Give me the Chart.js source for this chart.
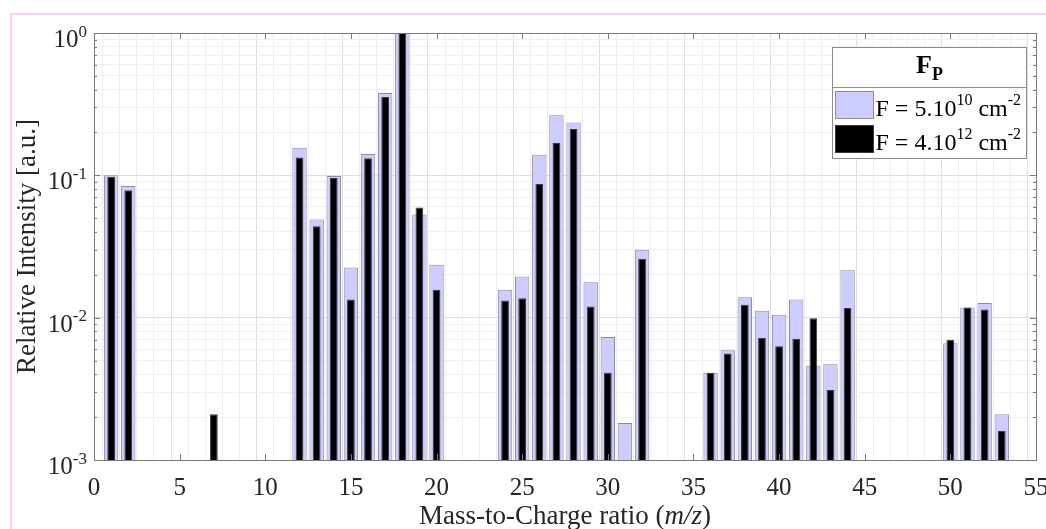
<!DOCTYPE html>
<html>
<head>
<meta charset="utf-8">
<script src="https://cdn.jsdelivr.net/npm/chart.js@4"></script>
<style>
  html, body { margin: 0; padding: 0; background: #fff; }
  #wrap { position: relative; width: 1046px; height: 529px; overflow: hidden; }
  #frame { position: absolute; left: 10px; top: 13px; width: 1100px; height: 600px; border: 2px solid #fcccfc; }
  canvas { position: absolute; left: 0; top: 0; }
</style>
</head>
<body>
<div id="wrap">
  <div id="frame"></div>
  <canvas id="spectrum" width="1046" height="529"></canvas>
</div>
<script>
// m/z positions and relative intensities
const massToCharge = [1, 2, 7, 12, 13, 14, 15, 16, 17, 18, 19, 20, 24, 25, 26, 27, 28, 29, 30, 31, 32,
                      36, 37, 38, 39, 40, 41, 42, 43, 44, 50, 51, 52, 53];
const lowFluence = [0.100, 0.084, null, 0.156, 0.049, 0.099, 0.0225, 0.141, 0.379, 1.0, 0.053, 0.0235,
                    0.0157, 0.0195, 0.1395, 0.264, 0.235, 0.0177, 0.0073, 0.00182, 0.030,
                    0.0041, 0.0059, 0.0139, 0.0112, 0.0105, 0.0134, 0.0046, 0.0047, 0.0215,
                    0.0066, 0.0118, 0.0127, 0.0021];
const highFluence = [0.0977, 0.0785, 0.0021, 0.1336, 0.0438, 0.0957, 0.0134, 0.132, 0.355, 1.0, 0.0595, 0.0157,
                     0.0132, 0.0137, 0.0869, 0.169, 0.2115, 0.0120, 0.0041, null, 0.0259,
                     0.0041, 0.0056, 0.0123, 0.0072, 0.0063, 0.0071, 0.0099, 0.0031, 0.0117,
                     0.0070, 0.0118, 0.0114, 0.0016];
const seriesLabels = ["F = 5.10^10 cm^-2", "F = 4.10^12 cm^-2"];
const legendTitle = ["F", "P"];
const xTickLabels = [0, 5, 10, 15, 20, 25, 30, 35, 40, 45, 50, 55];
const yTickLabels = [0.001, 0.01, 0.1, 1];
const yTitle = "Relative Intensity [a.u.]";
const xTitle = ["Mass-to-Charge ratio (", "m/z", ")"];

const serif = "'Liberation Serif', 'Times New Roman', serif";
const textColor = "#262626";
const axisColor = "#7a7a7a";
const majorGrid = "#dedede";
const minorGrid = "#efefef";

function toPoints(values) {
    return massToCharge.map((m, i) => ({ x: m, y: values[i] })).filter(p => p.y !== null);
}

function isDecade(v) {
    const l = Math.log10(v);
    return Math.abs(l - Math.round(l)) < 1e-6;
}

// split "5.10^10 cm^-2" into plain / superscript pieces
function splitSup(str) {
    const parts = [];
    let last = 0;
    str.replace(/\^(-?\d+)/g, (m, exp, idx) => {
        if (idx > last) parts.push({ text: str.slice(last, idx), sup: false });
        parts.push({ text: exp, sup: true });
        last = idx + m.length;
    });
    if (last < str.length) parts.push({ text: str.slice(last), sup: false });
    return parts;
}

function drawRich(ctx, str, x, y, size, align) {
    const parts = splitSup(str);
    const supSize = Math.round(size * 0.68);
    let width = 0;
    parts.forEach(p => {
        ctx.font = (p.sup ? supSize : size) + "px " + serif;
        p.w = ctx.measureText(p.text).width;
        width += p.w;
    });
    let cx = align === "right" ? x - width : align === "center" ? x - width / 2 : x;
    ctx.textAlign = "left";
    ctx.textBaseline = "alphabetic";
    parts.forEach(p => {
        ctx.font = (p.sup ? supSize : size) + "px " + serif;
        ctx.fillText(p.text, cx, p.sup ? y - size * 0.42 : y);
        cx += p.w;
    });
}

const decorations = {
    id: "decorations",
    afterDraw(chart) {
        const ctx = chart.ctx;
        const { left, right, top, bottom } = chart.chartArea;
        const xs = chart.scales.x;
        const ys = chart.scales.y;
        ctx.save();

        // inward tick marks and axis box
        ctx.strokeStyle = axisColor;
        ctx.lineWidth = 1;
        ctx.beginPath();
        xTickLabels.forEach(v => {
            const px = Math.round(xs.getPixelForValue(v)) + 0.5;
            ctx.moveTo(px, bottom); ctx.lineTo(px, bottom - 6);
            ctx.moveTo(px, top); ctx.lineTo(px, top + 6);
        });
        ys.ticks.forEach(t => {
            const py = Math.round(ys.getPixelForValue(t.value)) + 0.5;
            const len = isDecade(t.value) ? 6 : 3;
            ctx.moveTo(left, py); ctx.lineTo(left + len, py);
            ctx.moveTo(right, py); ctx.lineTo(right - len, py);
        });
        ctx.stroke();
        ctx.strokeRect(Math.round(left) + 0.5, Math.round(top) + 0.5, Math.round(right - left), Math.round(bottom - top));

        // tick labels
        ctx.fillStyle = textColor;
        yTickLabels.forEach(v => {
            drawRich(ctx, "10^" + Math.round(Math.log10(v)), left - 7, ys.getPixelForValue(v) + 14, 25, "right");
        });
        ctx.font = "25px " + serif;
        ctx.textAlign = "center";
        ctx.textBaseline = "alphabetic";
        xTickLabels.forEach(v => ctx.fillText(String(v), xs.getPixelForValue(v), bottom + 35));

        // x axis title with italic m/z
        const fonts = ["27px " + serif, "italic 27px " + serif, "27px " + serif];
        let total = 0;
        const widths = xTitle.map((t, i) => { ctx.font = fonts[i]; const w = ctx.measureText(t).width; total += w; return w; });
        let tx = (left + right) / 2 - total / 2;
        ctx.textAlign = "left";
        xTitle.forEach((t, i) => { ctx.font = fonts[i]; ctx.fillText(t, tx, 524); tx += widths[i]; });

        // legend box
        const bw = 194, bh = 111;
        const bx = Math.round(right - 10 - bw) + 0.5;
        const by = Math.round(top + 14) + 0.5;
        ctx.fillStyle = "#fff";
        ctx.fillRect(bx, by, bw, bh);
        ctx.strokeStyle = "#8c8c8c";
        ctx.strokeRect(bx, by, bw, bh);
        ctx.beginPath();
        ctx.moveTo(bx, by + 40); ctx.lineTo(bx + bw, by + 40);
        ctx.stroke();

        // legend title F with subscript P
        ctx.fillStyle = "#000";
        ctx.font = "bold 26px " + serif;
        const fw = ctx.measureText(legendTitle[0]).width;
        ctx.font = "bold 18px " + serif;
        const pw = ctx.measureText(legendTitle[1]).width;
        const cx = bx + bw / 2 - (fw + pw) / 2;
        ctx.font = "bold 26px " + serif;
        ctx.fillText(legendTitle[0], cx, by + 25);
        ctx.font = "bold 18px " + serif;
        ctx.fillText(legendTitle[1], cx + fw, by + 32);

        chart.data.datasets.forEach((ds, i) => {
            const ry = by + 44 + i * 34;
            ctx.fillStyle = ds.backgroundColor;
            ctx.fillRect(bx + 3, ry, 38, 27);
            ctx.strokeStyle = ds.borderColor;
            ctx.strokeRect(bx + 3, ry, 38, 27);
            ctx.fillStyle = "#000";
            drawRich(ctx, seriesLabels[i], bx + 43, ry + 24, 24, "left");
        });
        ctx.restore();
    }
};

new Chart(document.getElementById("spectrum").getContext("2d"), {
    type: "bar",
    data: {
        datasets: [{
            label: seriesLabels[0],
            data: toPoints(lowFluence),
            backgroundColor: "#ccccff",
            borderColor: "#8c8c9c",
            borderWidth: 1,
            grouped: false,
            barPercentage: 0.84,
            categoryPercentage: 1,
            order: 2
        }, {
            label: seriesLabels[1],
            data: toPoints(highFluence),
            backgroundColor: "#000000",
            borderColor: "#3a3a3a",
            borderWidth: 1,
            grouped: false,
            barPercentage: 0.45,
            categoryPercentage: 1,
            order: 1
        }]
    },
    options: {
        responsive: false,
        animation: false,
        layout: { padding: { top: 33, right: 10, left: 0, bottom: 0 } },
        plugins: { legend: { display: false }, tooltip: { enabled: false } },
        scales: {
            x: {
                type: "linear",
                min: 0,
                max: 55,
                offset: false,
                ticks: { stepSize: 1, autoSkip: false, display: false },
                grid: {
                    drawTicks: false,
                    color: c => (c.tick && c.tick.value % 5 === 0 ? majorGrid : minorGrid)
                },
                border: { display: false },
                afterFit: s => { s.height = 69; }
            },
            y: {
                type: "logarithmic",
                min: 0.001,
                max: 1,
                afterBuildTicks: s => {
                    const ticks = [];
                    for (let e = -3; e < 0; e++) {
                        for (let k = 1; k < 10; k++) ticks.push({ value: k * Math.pow(10, e) });
                    }
                    ticks.push({ value: 1 });
                    s.ticks = ticks;
                },
                ticks: { display: false, autoSkip: false },
                grid: {
                    drawTicks: false,
                    color: c => (c.tick && isDecade(c.tick.value) ? majorGrid : minorGrid)
                },
                border: { display: false },
                title: {
                    display: true,
                    text: yTitle,
                    color: textColor,
                    font: { family: serif, size: 27 },
                    padding: { top: 12, bottom: 0 }
                },
                afterFit: s => { s.width = 94; }
            }
        }
    },
    plugins: [decorations]
});
</script>
</body>
</html>
